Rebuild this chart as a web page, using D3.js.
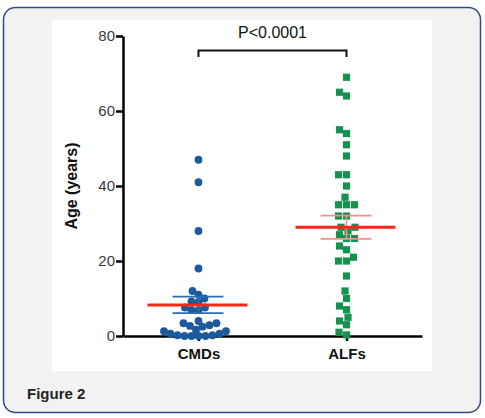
<!DOCTYPE html>
<html><head><meta charset="utf-8">
<script src="https://cdn.jsdelivr.net/npm/d3@7"></script>
<style>
html,body{margin:0;padding:0;background:#fff;}
svg{display:block;}
</style></head>
<body>
<script>
// ---- data ----
const categories = ["CMDs", "ALFs"];
const cmdsAges = [47, 41, 28, 18, 12, 11, 10, 9, 9.2, 7.6, 7.6, 6.9, 6.9, 4, 3.4, 3.4,
                  2.9, 2.7, 2.5, 1.7, 1.3, 1.3, 0.6, 0.6, 0.2, 0.2, 0, 0, 0, 0];
const alfsAges = [69, 65, 64, 55, 54, 51, 48, 43, 43, 40, 37, 35, 35, 35, 32, 32, 29, 29, 28, 27, 26, 26, 24, 23,
                  21, 20, 20, 16, 12, 10, 8, 7, 5, 3, 4, 1, 0.3];
const means = [8.3, 29];
const sems = [2.2, 3.1];
const yTicks = [0, 20, 40, 60, 80];
const pLabel = "P<0.0001";
const yLabel = "Age (years)";
const caption = "Figure 2";

// ---- drawing ----
const W = 485, H = 418;
const svg = d3.select("body").append("svg").attr("width", W).attr("height", H);
const font = "Arial, 'Liberation Sans', sans-serif";

// outer frame
svg.append("rect").attr("x", 3.5).attr("y", 7.5).attr("width", 477).attr("height", 405)
  .attr("rx", 12).attr("fill", "#f2f2f2").attr("stroke", "#2f4b88").attr("stroke-width", 1.5);
// white figure panel
svg.append("rect").attr("x", 52).attr("y", 20).attr("width", 380).attr("height", 351).attr("fill", "#fff");

svg.append("text").attr("x", 27).attr("y", 399).text(caption)
  .attr("font-family", font).attr("font-weight", "bold")
  .attr("font-size", 15).attr("fill", "#222");

const y = d3.scaleLinear().domain([0, 80]).range([336, 36]);
const x = d3.scalePoint().domain(categories).range([123, 422]).padding(0.51);

// y axis
const yAx = svg.append("g").attr("transform", "translate(123,0)")
  .call(d3.axisLeft(y).tickValues(yTicks).tickSize(7).tickSizeOuter(0).tickPadding(1));
yAx.select(".domain").attr("stroke", "#000").attr("stroke-width", 2.5);
yAx.selectAll(".tick line").attr("stroke", "#000").attr("stroke-width", 2.5);
yAx.selectAll(".tick text").attr("font-family", font).attr("font-size", 15).attr("fill", "#3a3a3a");

// x axis
const xAx = svg.append("g").attr("transform", "translate(0,336)")
  .call(d3.axisBottom(x).tickSize(5).tickSizeOuter(0).tickPadding(7));
xAx.select(".domain").attr("stroke", "#000").attr("stroke-width", 2.5);
xAx.selectAll(".tick line").attr("stroke", "#000").attr("stroke-width", 2.5);
xAx.selectAll(".tick text").attr("font-family", font).attr("font-size", 15).attr("font-weight", "bold").attr("fill", "#111");

// y label
svg.append("text").attr("transform", "translate(77," + y(40) + ") rotate(-90)")
  .attr("text-anchor", "middle").attr("font-family", font).attr("font-weight", "bold")
  .attr("font-size", 16).attr("fill", "#111").text(yLabel);

// significance bracket
const bx0 = x(categories[0]), bx1 = x(categories[1]);
svg.append("path").attr("d", `M${bx0},57 V50.5 H${bx1} V57`).attr("fill", "none")
  .attr("stroke", "#111").attr("stroke-width", 2);
svg.append("text").attr("x", (bx0 + bx1) / 2).attr("y", 38).attr("text-anchor", "middle")
  .attr("font-family", font).attr("font-size", 16).attr("fill", "#111").text(pLabel);

// beeswarm layout (greedy, nearest free horizontal offset)
function swarm(values, cx, minDist) {
  const order = values.map((v, i) => i).sort((a, b) => values[a] - values[b]);
  const placed = [];
  const out = new Array(values.length);
  for (const i of order) {
    const py = y(values[i]);
    let best = 0;
    for (let k = 0; k < 400; k++) {
      const off = (k % 2 === 0 ? 1 : -1) * Math.ceil(k / 2) * 0.5;
      const ok = placed.every(p => Math.hypot(p.x - (cx + off), p.y - py) >= minDist);
      if (ok) { best = off; break; }
    }
    const pt = {x: cx + best, y: py};
    placed.push(pt);
    out[i] = pt;
  }
  return out;
}

const blue = "#1c5a9c", green = "#17924e";
const cmdPts = swarm(cmdsAges, x("CMDs"), 6.8);
const alfPts = swarm(alfsAges, x("ALFs"), 7.6);

function errBar(ci, color, mColor) {
  const cx = x(categories[ci]);
  const g = svg.append("g");
  g.append("line").attr("x1", cx).attr("x2", cx).attr("y1", y(means[ci] + sems[ci])).attr("y2", y(means[ci] - sems[ci]))
    .attr("stroke", color).attr("stroke-width", 1.6);
  [means[ci] + sems[ci], means[ci] - sems[ci]].forEach(v => {
    g.append("line").attr("x1", cx - 26).attr("x2", cx + 25).attr("y1", y(v)).attr("y2", y(v))
      .attr("stroke", color).attr("stroke-width", 1.6);
  });
  g.append("line").attr("x1", cx - 51).attr("x2", cx + 49).attr("y1", y(means[ci])).attr("y2", y(means[ci]))
    .attr("stroke", mColor).attr("stroke-width", 3);
}

svg.append("g").selectAll("circle").data(cmdPts).join("circle")
  .attr("cx", d => d.x).attr("cy", d => d.y).attr("r", 3.9).attr("fill", blue);
svg.append("g").selectAll("rect").data(alfPts).join("rect")
  .attr("x", d => d.x - 3.6).attr("y", d => d.y - 3.6).attr("width", 7.2).attr("height", 7.2).attr("fill", green);

errBar(0, "#2f6db2", "#ee2a1b");
errBar(1, "#f28f8f", "#ee2a1b");
</script>
</body></html>
